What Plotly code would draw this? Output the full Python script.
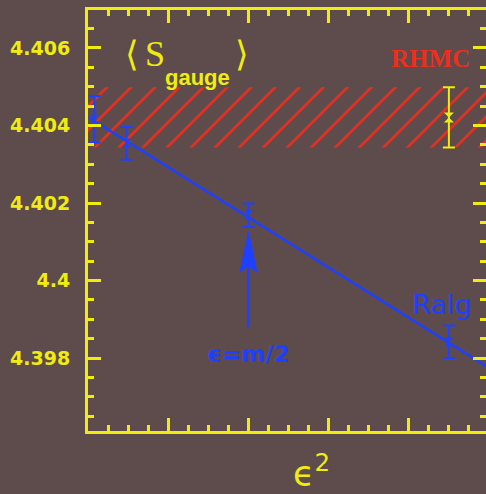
import plotly.graph_objects as go

# R-algorithm measurements of <S_gauge> versus step size squared
ralg_eps2 = [4e-6, 2.4e-5, 1.0e-4, 2.25e-4]
ralg_s = [4.40416, 4.40354, 4.40169, 4.39842]
ralg_err = [0.00060, 0.00042, 0.00030, 0.00042]

# linear fit through the R-algorithm points
fit_eps2 = [0.0, 2.5e-4]
fit_s = [4.40422, 4.39775]

# exact RHMC result
rhmc_eps2 = [2.25e-4]
rhmc_s = [4.40421]
rhmc_err = [0.00078]

# arrow marking eps = m/2
arrow_eps2 = 1.0e-4
arrow_s = 4.40125

# axes
x_range = [0.0, 2.4813e-4]
y_range = [4.39612, 4.40698]
y_ticks = [4.398, 4.400, 4.402, 4.404, 4.406]
y_ticktext = ["4.398", "4.4", "4.402", "4.404", "4.406"]

YELLOW = "#f0ec10"
BLUE = "#2040ff"
RED = "#ec2e1e"
BG = "#5d4c4b"

W, H = 486, 494
M_L, M_R, M_T, M_B = 88, 0, 10, 63
PLOT_W = W - M_L - M_R
PLOT_H = H - M_T - M_B
# data units per screen pixel, used to size the arrow
px_x = (x_range[1] - x_range[0]) / PLOT_W
px_y = (y_range[1] - y_range[0]) / PLOT_H

fig = go.Figure()

# hatched band: RHMC value +/- its error across the whole axis
band_lo = rhmc_s[0] - rhmc_err[0]
band_hi = rhmc_s[0] + rhmc_err[0]
fig.add_trace(go.Scatter(
    x=x_range, y=[band_lo, band_lo], mode="lines",
    line=dict(width=0, color="rgba(0,0,0,0)"), hoverinfo="skip"))
fig.add_trace(go.Scatter(
    x=x_range, y=[band_hi, band_hi], mode="lines",
    line=dict(width=0, color="rgba(0,0,0,0)"),
    fill="tonexty", fillcolor="rgba(0,0,0,0)",
    fillpattern=dict(shape="/", fgcolor=RED, bgcolor="rgba(0,0,0,0)",
                     size=17, solidity=0.15, fgopacity=1),
    hoverinfo="skip"))

# fit line
fig.add_trace(go.Scatter(
    x=fit_eps2, y=fit_s, mode="lines",
    line=dict(color=BLUE, width=2.5), hoverinfo="skip"))

# R-algorithm points
fig.add_trace(go.Scatter(
    x=ralg_eps2, y=ralg_s, mode="markers",
    marker=dict(symbol="hourglass", size=9, color=BLUE),
    error_y=dict(type="data", array=ralg_err, color=BLUE,
                 thickness=2, width=6)))

# RHMC point
fig.add_trace(go.Scatter(
    x=rhmc_eps2, y=rhmc_s, mode="markers",
    marker=dict(symbol="hourglass", size=10, color=YELLOW),
    error_y=dict(type="data", array=rhmc_err, color=YELLOW,
                 thickness=2, width=6)))

axis_common = dict(
    showline=True, linecolor=YELLOW, linewidth=3, mirror="allticks",
    ticks="inside", tickcolor=YELLOW, tickwidth=2.5, ticklen=13,
    showgrid=False, zeroline=False,
)

fig.update_xaxes(
    range=x_range, tickmode="linear", tick0=0, dtick=5e-5,
    showticklabels=False,
    minor=dict(tickmode="linear", tick0=0, dtick=1.25e-5, ticks="inside",
               ticklen=6, tickcolor=YELLOW, tickwidth=2.5, showgrid=False),
    **axis_common)

fig.update_yaxes(
    range=y_range, tickmode="array", tickvals=y_ticks, ticktext=y_ticktext,
    tickfont=dict(family="DejaVu Sans", size=19, color=YELLOW, weight="bold"),
    ticklabelstandoff=11,
    minor=dict(tickmode="linear", tick0=4.396, dtick=0.0005, ticks="inside",
               ticklen=6, tickcolor=YELLOW, tickwidth=2.5, showgrid=False),
    **axis_common)

# arrow for eps = m/2: shaft plus a long, narrow notched head
head_len, head_half, notch = 40, 8.5, 33
shaft_len = 95
shapes = [
    dict(type="line", xref="x", yref="y",
         x0=arrow_eps2, x1=arrow_eps2,
         y0=arrow_s - shaft_len * px_y, y1=arrow_s - notch * px_y,
         line=dict(color=BLUE, width=3)),
    dict(type="path", xref="x", yref="y",
         path=(f"M{arrow_eps2},{arrow_s} "
               f"L{arrow_eps2 - head_half * px_x},{arrow_s - head_len * px_y} "
               f"L{arrow_eps2},{arrow_s - notch * px_y} "
               f"L{arrow_eps2 + head_half * px_x},{arrow_s - head_len * px_y} Z"),
         fillcolor=BLUE, line=dict(color=BLUE, width=1)),
]

text_common = dict(xref="paper", yref="paper", showarrow=False,
                   xanchor="center", yanchor="middle")


def px_to_paper(px, py):
    return dict(x=(px - M_L) / PLOT_W, y=(H - M_B - py) / PLOT_H)


annotations = [
    dict(text="<b>\u03f5=m/2</b>",
         font=dict(family="DejaVu Sans", size=23, color=BLUE),
         **px_to_paper(248, 354), **text_common),
    dict(text="Ralg",
         font=dict(family="DejaVu Sans", size=27, color=BLUE),
         **px_to_paper(441, 304), **text_common),
    dict(text="RHMC",
         font=dict(family="Liberation Serif", size=25, color=RED, weight="bold"),
         **px_to_paper(430, 58), **text_common),
    # <S_gauge> label, set in pieces
    dict(text="\u27e8",
         font=dict(family="Liberation Serif", size=35, color=YELLOW),
         **px_to_paper(132, 54), **text_common),
    dict(text="S",
         font=dict(family="Liberation Serif", size=36, color=YELLOW),
         **px_to_paper(155, 54), **text_common),
    dict(text="<b>gauge</b>",
         font=dict(family="Liberation Sans", size=22, color=YELLOW),
         **px_to_paper(197, 78), **text_common),
    dict(text="\u27e9",
         font=dict(family="Liberation Serif", size=35, color=YELLOW),
         **px_to_paper(242, 54), **text_common),
    # x-axis title
    dict(text="\u03f5<sup>2</sup>", height=44,
         font=dict(family="DejaVu Sans", size=35, color=YELLOW),
         **px_to_paper(311, 471), **text_common),
]

fig.update_layout(
    width=W, height=H,
    margin=dict(l=M_L, r=M_R, t=M_T, b=M_B, autoexpand=False),
    paper_bgcolor=BG, plot_bgcolor=BG,
    showlegend=False, hovermode=False,
    shapes=shapes, annotations=annotations,
)

fig.write_html("out.html")
